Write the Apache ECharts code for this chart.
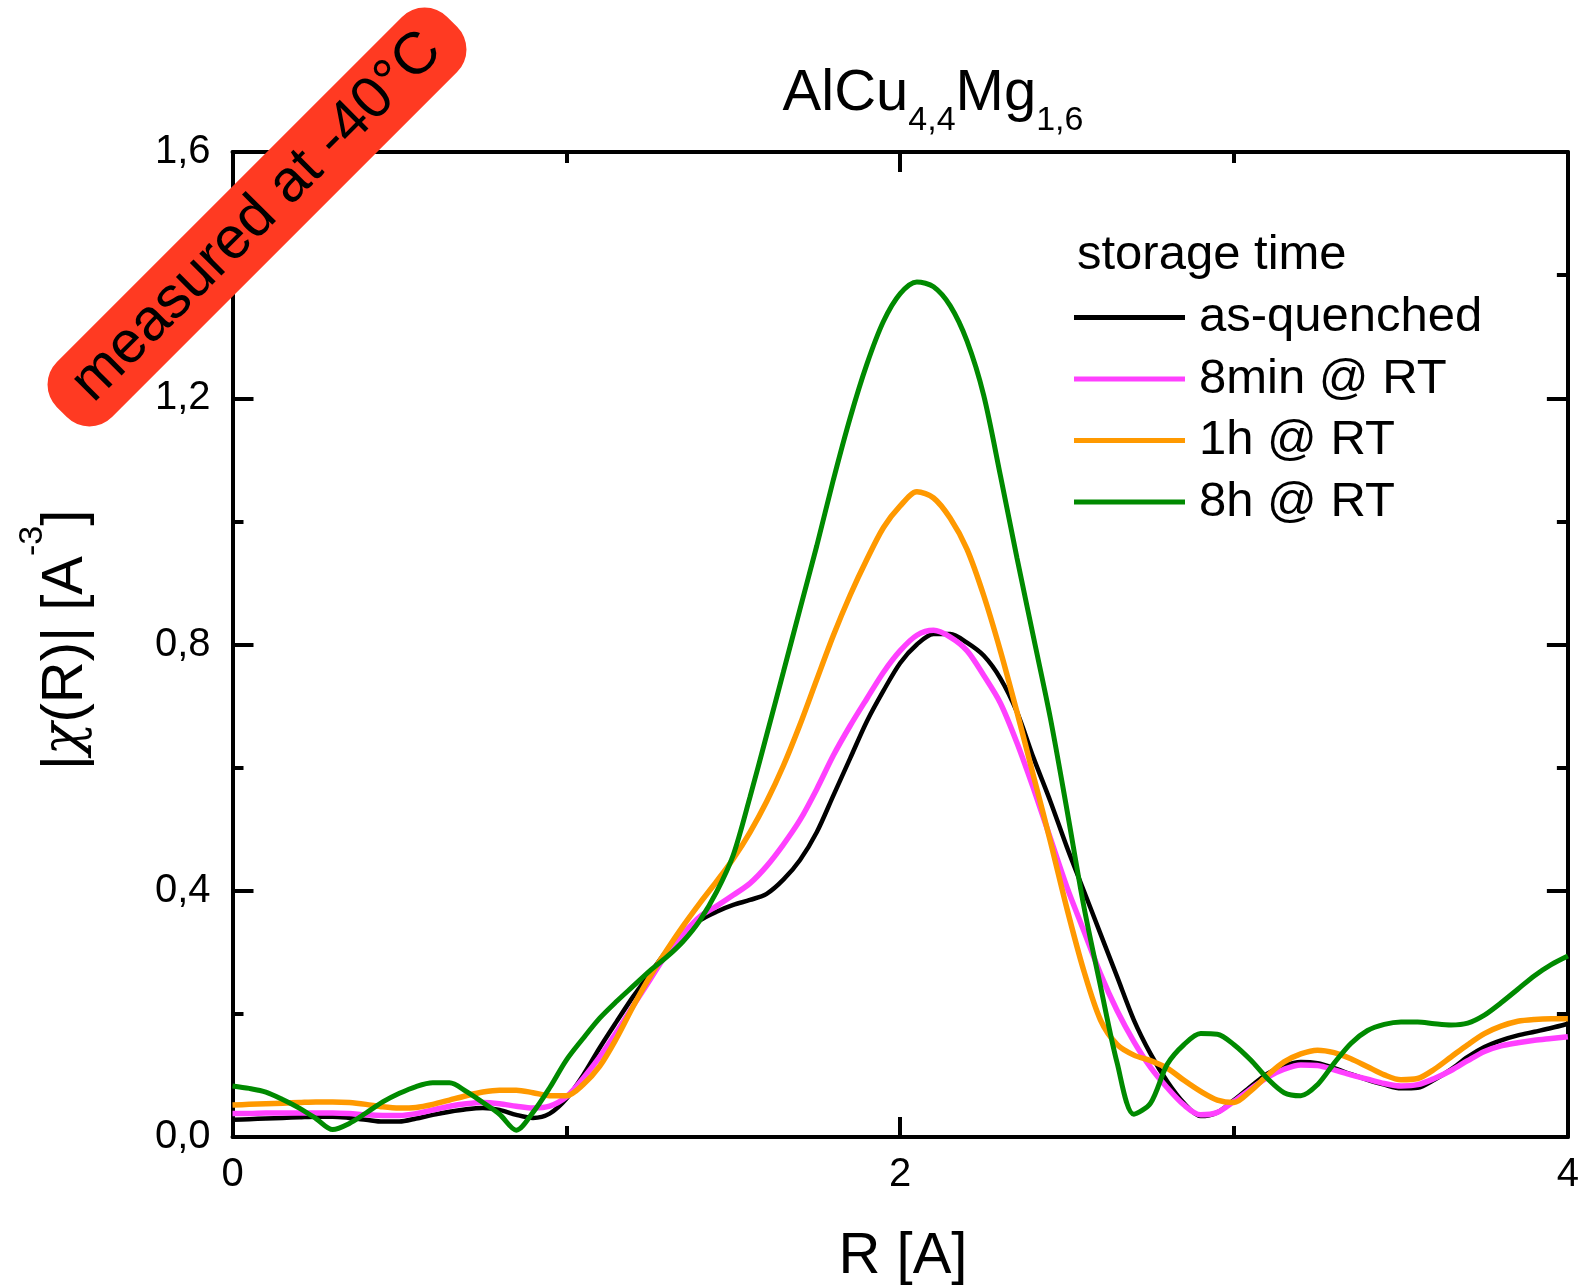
<!DOCTYPE html>
<html>
<head>
<meta charset="utf-8">
<title>AlCu4,4Mg1,6 |χ(R)|</title>
<script src="https://cdn.jsdelivr.net/npm/echarts@6/dist/echarts.min.js"></script>
<style>
  html, body { margin: 0; padding: 0; background: #fff; }
  #chart { width: 1582px; height: 1288px; }
</style>
</head>
<body>
<div id="chart"></div>
<script>
// Radial distance grid R [A]
const R = [
  0.00, 0.05, 0.10, 0.15, 0.20, 0.25, 0.30, 0.35, 0.40, 0.45,
  0.50, 0.55, 0.60, 0.65, 0.70, 0.75, 0.80, 0.85, 0.90, 0.95,
  1.00, 1.05, 1.10, 1.15, 1.20, 1.25, 1.30, 1.35, 1.40, 1.45,
  1.50, 1.55, 1.60, 1.65, 1.70, 1.75, 1.80, 1.85, 1.90, 1.95,
  2.00, 2.05, 2.10, 2.15, 2.20, 2.25, 2.30, 2.35, 2.40, 2.45,
  2.50, 2.55, 2.60, 2.65, 2.70, 2.75, 2.80, 2.85, 2.90, 2.95,
  3.00, 3.05, 3.10, 3.15, 3.20, 3.25, 3.30, 3.35, 3.40, 3.45,
  3.50, 3.55, 3.60, 3.65, 3.70, 3.75, 3.80, 3.85, 3.90, 3.95,
  4.00
];

// |chi(R)| for each storage time
const asQuenched = [
  0.028, 0.029, 0.030, 0.031, 0.032, 0.033, 0.033, 0.031, 0.028, 0.025,
  0.025, 0.030, 0.036, 0.041, 0.045, 0.047, 0.044, 0.036, 0.031, 0.038,
  0.062, 0.100, 0.145, 0.187, 0.228, 0.265, 0.302, 0.330, 0.352, 0.366,
  0.377, 0.385, 0.395, 0.418, 0.450, 0.495, 0.555, 0.615, 0.675, 0.725,
  0.770, 0.800, 0.817, 0.817, 0.803, 0.782, 0.745, 0.690, 0.615, 0.545,
  0.470, 0.400, 0.330, 0.260, 0.190, 0.135, 0.090, 0.055, 0.034, 0.040,
  0.060, 0.082, 0.103, 0.116, 0.122, 0.120, 0.112, 0.102, 0.093, 0.085,
  0.079, 0.080, 0.093, 0.110, 0.130, 0.146, 0.157, 0.165, 0.171, 0.177,
  0.184
];

const min8RT = [
  0.038, 0.038, 0.039, 0.039, 0.039, 0.039, 0.039, 0.038, 0.036, 0.035,
  0.035, 0.038, 0.044, 0.050, 0.054, 0.056, 0.054, 0.050, 0.047, 0.050,
  0.065, 0.095, 0.130, 0.170, 0.213, 0.255, 0.297, 0.330, 0.358, 0.375,
  0.393, 0.412, 0.440, 0.475, 0.515, 0.565, 0.620, 0.668, 0.712, 0.755,
  0.790, 0.815, 0.823, 0.812, 0.790, 0.750, 0.705, 0.640, 0.565, 0.485,
  0.405, 0.335, 0.265, 0.205, 0.155, 0.113, 0.080, 0.052, 0.036, 0.040,
  0.058, 0.078, 0.097, 0.110, 0.117, 0.116, 0.109, 0.101, 0.094, 0.087,
  0.083, 0.085, 0.095, 0.108, 0.124, 0.139, 0.148, 0.153, 0.157, 0.160,
  0.163
];

const h1RT = [
  0.052, 0.053, 0.054, 0.055, 0.056, 0.057, 0.057, 0.056, 0.053, 0.049,
  0.047, 0.048, 0.053, 0.060, 0.067, 0.073, 0.076, 0.076, 0.072, 0.067,
  0.067, 0.085, 0.115, 0.160, 0.212, 0.260, 0.303, 0.343, 0.380, 0.415,
  0.452, 0.495, 0.545, 0.603, 0.670, 0.743, 0.815, 0.880, 0.938, 0.990,
  1.025, 1.048, 1.038, 1.005, 0.955, 0.880, 0.790, 0.690, 0.585, 0.480,
  0.370, 0.270, 0.190, 0.150, 0.133, 0.124, 0.112, 0.092, 0.074, 0.060,
  0.056, 0.075, 0.100, 0.122, 0.135, 0.141, 0.137, 0.127, 0.114, 0.101,
  0.093, 0.095, 0.110, 0.130, 0.150, 0.168, 0.180, 0.188, 0.191, 0.192,
  0.192
];

const h8RT = [
  0.083, 0.079, 0.073, 0.061, 0.047, 0.030, 0.012, 0.022, 0.039, 0.057,
  0.071, 0.082, 0.088, 0.088, 0.074, 0.056, 0.037, 0.011, 0.040, 0.080,
  0.125, 0.160, 0.193, 0.220, 0.245, 0.270, 0.292, 0.318, 0.352, 0.398,
  0.458, 0.552, 0.653, 0.755, 0.858, 0.960, 1.068, 1.168, 1.255, 1.325,
  1.370, 1.389, 1.381, 1.350, 1.293, 1.205, 1.075, 0.940, 0.810, 0.680,
  0.530, 0.375, 0.245, 0.120, 0.037, 0.055, 0.118, 0.150, 0.168, 0.167,
  0.150, 0.125, 0.095, 0.072, 0.067, 0.085, 0.120, 0.152, 0.173, 0.183,
  0.187, 0.187, 0.184, 0.182, 0.185, 0.198, 0.218, 0.240, 0.262, 0.280,
  0.294
];

// Axis ranges and ticks
const xMin = 0, xMax = 4, xStep = 2;
const yMin = 0, yMax = 1.6, yStep = 0.4;

const seriesNames = ['as-quenched', '8min @ RT', '1h @ RT', '8h @ RT'];
const seriesValues = [asQuenched, min8RT, h1RT, h8RT];
const seriesColors = ['#000000', '#ff40ff', '#ff9900', '#008a00'];
const seriesWidths = [4.5, 5.5, 5.5, 5];

const FONT = '"Liberation Sans", Arial, Helvetica, sans-serif';

const chart = echarts.init(document.getElementById('chart'), null, { renderer: 'canvas' });

const tickStyle = { color: '#000', width: 4 };

function makeX(pos, showLabel) {
  return {
    type: 'value', position: pos, min: xMin, max: xMax, interval: xStep,
    axisLine: { show: true, onZero: false, lineStyle: { color: '#000', width: 4 } },
    axisTick: { show: true, inside: true, length: 20, lineStyle: tickStyle },
    minorTick: { show: true, splitNumber: 2, length: 11, lineStyle: tickStyle },
    splitLine: { show: false },
    axisLabel: {
      show: showLabel, margin: 18, color: '#000', fontFamily: FONT, fontSize: 40,
      formatter: v => String(v)
    }
  };
}

function makeY(pos, showLabel) {
  return {
    type: 'value', position: pos, min: yMin, max: yMax, interval: yStep,
    axisLine: { show: true, onZero: false, lineStyle: { color: '#000', width: 4 } },
    axisTick: { show: true, inside: true, length: 21, lineStyle: tickStyle },
    minorTick: { show: true, splitNumber: 2, length: 11, lineStyle: tickStyle },
    splitLine: { show: false },
    axisLabel: {
      show: showLabel, margin: 22, color: '#000', fontFamily: FONT, fontSize: 40,
      formatter: v => v.toFixed(1).replace('.', ',')
    }
  };
}

const series = seriesNames.map((name, k) => ({
  name: name,
  type: 'line',
  xAxisIndex: 0,
  yAxisIndex: 0,
  data: R.map((r, i) => [r, seriesValues[k][i]]),
  showSymbol: false,
  symbol: 'none',
  smooth: 0.3,
  lineStyle: { color: seriesColors[k], width: seriesWidths[k] },
  itemStyle: { color: seriesColors[k] },
  z: 2 + k
}));

const option = {
  animation: false,
  backgroundColor: '#ffffff',
  grid: { left: 232.5, right: 8.5, top: 152, bottom: 151, containLabel: false },
  xAxis: [makeX('bottom', true), makeX('top', false)],
  yAxis: [makeY('left', true), makeY('right', false)],
  legend: {
    show: true,
    orient: 'vertical',
    left: 1069, top: 288,
    icon: 'rect',
    itemWidth: 111, itemHeight: 5, itemGap: 12.5,
    textStyle: { color: '#000', fontFamily: FONT, fontSize: 49, lineHeight: 48, padding: [0, 0, 0, 9] },
    data: seriesNames
  },
  series: series,
  graphic: [
    // chart title with subscripts
    {
      type: 'text', x: 933, y: 94, z: 50,
      style: {
        text: '{m|AlCu}{s|4,4}{m|Mg}{s|1,6}',
        align: 'center', verticalAlign: 'middle',
        fill: '#000',
        rich: {
          m: { fontFamily: FONT, fontSize: 58, lineHeight: 88, fill: '#000' },
          s: { fontFamily: FONT, fontSize: 34, lineHeight: 36, verticalAlign: 'bottom', fill: '#000' }
        }
      }
    },
    // x axis title
    {
      type: 'text', x: 903, y: 1257, z: 50,
      style: {
        text: 'R [A]', align: 'center', verticalAlign: 'middle',
        fontFamily: FONT, fontSize: 58, fill: '#000'
      }
    },
    // y axis title with Greek chi and superscript
    {
      type: 'text', x: 66, y: 640, rotation: Math.PI / 2, z: 50,
      style: {
        text: '{m|\u007C}{g|χ}{m|(R)\u007C [A}{p|-3}{m|]}',
        align: 'center', verticalAlign: 'middle',
        fill: '#000',
        rich: {
          m: { fontFamily: FONT, fontSize: 58, lineHeight: 100, fill: '#000' },
          g: { fontFamily: '"DejaVu Serif", "DejaVu Sans", serif', fontStyle: 'italic', fontSize: 54, lineHeight: 100, fill: '#000' },
          p: { fontFamily: FONT, fontSize: 34, lineHeight: 34, verticalAlign: 'top', fill: '#000' }
        }
      }
    },
    // legend heading
    {
      type: 'text', x: 1077, y: 255, z: 50,
      style: {
        text: 'storage time', align: 'left', verticalAlign: 'middle',
        fontFamily: FONT, fontSize: 49, fill: '#000'
      }
    },
    // measurement-temperature badge
    {
      type: 'group', x: 257, y: 217, rotation: Math.PI / 4, z: 100,
      children: [
        {
          type: 'rect', z: 100,
          shape: { x: -276, y: -39, width: 552, height: 78, r: 32 },
          style: { fill: '#ff3a22' }
        },
        {
          type: 'text', z: 101, x: 0, y: 0,
          style: {
            text: 'measured at -40°C', align: 'center', verticalAlign: 'middle',
            fontFamily: FONT, fontSize: 59, fill: '#000'
          }
        }
      ]
    }
  ]
};

chart.setOption(option);
</script>
</body>
</html>
